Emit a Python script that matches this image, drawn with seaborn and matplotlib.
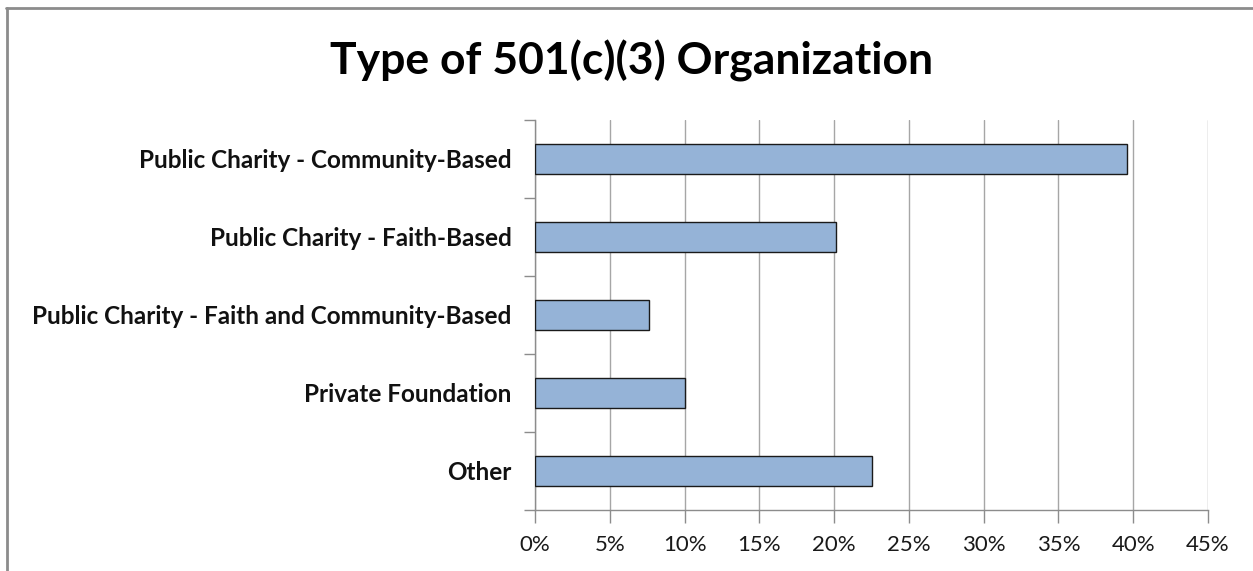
import matplotlib
matplotlib.use("Agg")
import matplotlib.pyplot as plt
import seaborn as sns
import pandas as pd
from matplotlib.ticker import PercentFormatter, MultipleLocator
from matplotlib.lines import Line2D

categories = [
    "Public Charity - Community-Based",
    "Public Charity - Faith-Based",
    "Public Charity - Faith and Community-Based",
    "Private Foundation",
    "Other",
]
values = [39.6, 20.1, 7.6, 10.0, 22.5]
title = "Type of 501(c)(3) Organization"

df = pd.DataFrame({"category": categories, "value": values})

sns.set_style("white")
plt.rcParams["font.family"] = ["Lato", "DejaVu Sans"]

fig = plt.figure(figsize=(12.53, 5.71), dpi=100)
ax = fig.add_axes([535 / 1253, 1 - 510 / 571, (1208 - 535) / 1253, (510 - 120) / 571])

sns.barplot(data=df, x="value", y="category", order=categories, orient="h",
            color="#95B3D7", edgecolor="#1a1a1a", linewidth=1.0, width=0.39,
            saturation=1, ax=ax, zorder=3)

ax.set_xlim(0, 45)
ax.set_ylim(4.5, -0.5)
ax.xaxis.set_major_locator(MultipleLocator(5))
ax.xaxis.set_major_formatter(PercentFormatter(decimals=0))
ax.grid(axis="x", color="#a6a6a6", linewidth=1.0, zorder=0)
ax.set_axisbelow(True)

for s in ["top", "right"]:
    ax.spines[s].set_visible(False)
for s in ["left", "bottom"]:
    ax.spines[s].set_color("#8c8c8c")
    ax.spines[s].set_linewidth(1.0)

ax.set_xlabel("")
ax.set_ylabel("")
ax.tick_params(axis="x", length=9, color="#8c8c8c", width=1, direction="out",
               labelsize=16, pad=9, bottom=True, labelcolor="#1a1a1a")
ax.tick_params(axis="y", length=0, labelsize=17.5, pad=17, left=False, labelcolor="#111111")
for lab in ax.get_yticklabels():
    lab.set_fontweight("bold")

# category boundary tick marks on the left axis
ax.set_yticks([i + 0.5 for i in range(-1, 5)], minor=True)
ax.tick_params(axis="y", which="minor", length=8, color="#8c8c8c", width=1, left=True)

fig.text(632 / 1253, 1 - 61 / 571, title, ha="center", va="center",
         fontsize=32, fontweight="bold", color="#000000")

# outer chart-area border (top and left visible)
fig.lines.append(Line2D([6 / 1253, 1.0], [1 - 8 / 571, 1 - 8 / 571],
                        transform=fig.transFigure, color="#8c8c8c", linewidth=2))
fig.lines.append(Line2D([7 / 1253, 7 / 1253], [0.0, 1 - 8 / 571],
                        transform=fig.transFigure, color="#8c8c8c", linewidth=2))

fig.savefig("out.png", dpi=100, facecolor="white")
